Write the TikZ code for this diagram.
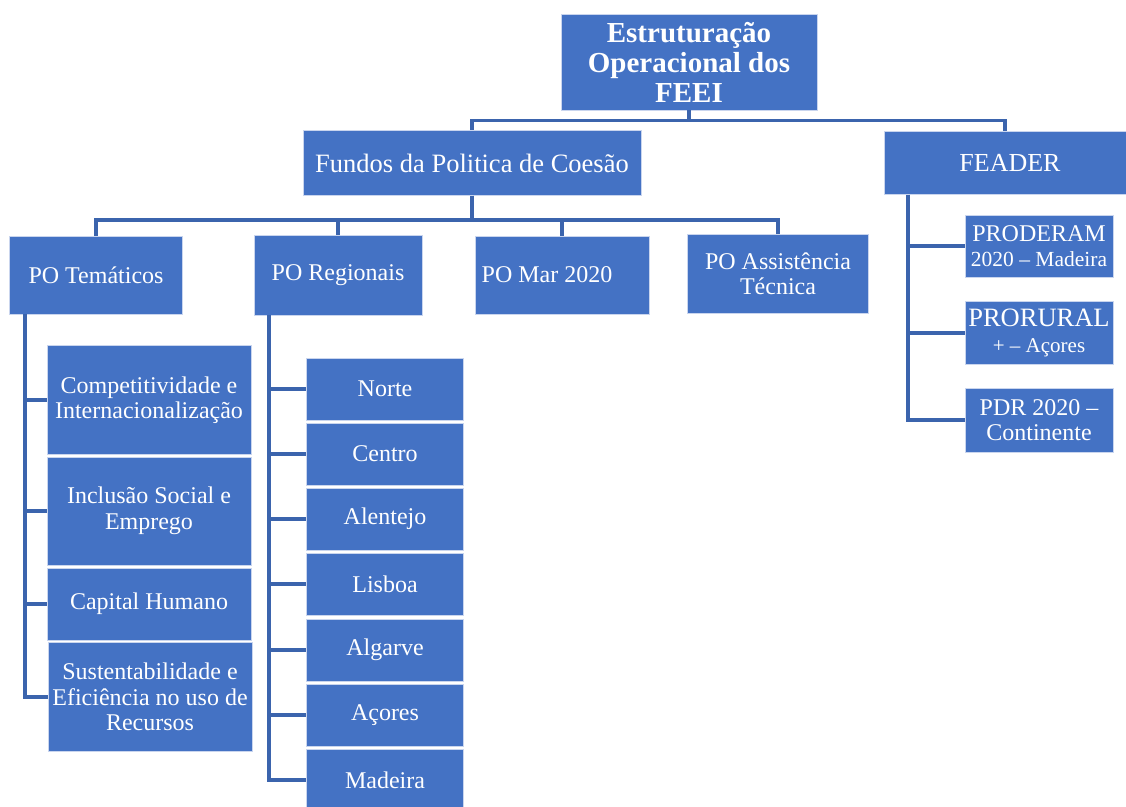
\documentclass[tikz,border=0pt]{standalone}
\usepackage{fontspec}
\setmainfont{Liberation Serif}
\usepackage{xcolor}
\usepackage{tikz}
\definecolor{boxblue}{HTML}{4472C4}
\definecolor{lineblue}{HTML}{3B64AD}
\definecolor{edgeblue}{HTML}{C9D5EE}
\tikzset{every picture/.style={x=1pt,y=-1pt},
  box/.style={rectangle, fill=boxblue, draw=edgeblue, line width=0.8pt, text=white,
    align=center, inner sep=1pt, font=\fontsize{24}{25.5}\selectfont},
  link/.style={draw=lineblue, line width=3.2pt}}

\begin{document}
\begin{tikzpicture}
        \useasboundingbox (0,0) rectangle (1126,806);

        \node[box, minimum width=256, minimum height=96, font=\bfseries\fontsize{29}{30}\selectfont] (root) at (689, 62) {Estruturação\\Operacional dos\\FEEI};
        \node[box, minimum width=338, minimum height=65, font=\fontsize{26.5}{28}\selectfont] (fundos) at (472, 163) {Fundos da Politica de Coesão};
        \node[box, minimum width=242, minimum height=63, font=\fontsize{26}{28}\selectfont] (feader) at (1005, 163) {\hspace*{10pt}FEADER};

        \node[box, minimum width=173, minimum height=78] (tem) at (96, 275) {PO Temáticos};
        \node[box, minimum width=168, minimum height=80] (reg) at (338, 275) {PO Regionais};
        \node[box, minimum width=174, minimum height=78] (mar) at (562, 275) {\hspace*{-30pt}PO Mar 2020};
        \node[box, minimum width=181, minimum height=79] (asst) at (778, 274) {PO Assistência\\Técnica};

        \node[box, minimum width=204, minimum height=109] (comp) at (149, 400) {Competitividade e\\Internacionalização};
        \node[box, minimum width=204, minimum height=108] (incl) at (149, 511) {Inclusão Social e\\Emprego};
        \node[box, minimum width=204, minimum height=72] (cap) at (149, 604) {Capital Humano};
        \node[box, minimum width=204, minimum height=109] (sust) at (150, 697) {Sustentabilidade e\\Eficiência no uso de\\Recursos};

        \node[box, minimum width=157, minimum height=62] (norte) at (385, 389) {Norte};
        \node[box, minimum width=157, minimum height=62] (centro) at (385, 454) {Centro};
        \node[box, minimum width=157, minimum height=62] (alentejo) at (385, 519) {Alentejo};
        \node[box, minimum width=157, minimum height=62] (lisboa) at (385, 584) {Lisboa};
        \node[box, minimum width=157, minimum height=62] (algarve) at (385, 650) {Algarve};
        \node[box, minimum width=157, minimum height=62] (acores) at (385, 715) {Açores};
        \node[box, minimum width=157, minimum height=62] (madeira) at (385, 780) {Madeira};

        \node[box, minimum width=148, minimum height=62, inner sep=0pt] (proderam) at (1039, 246) {PRODERAM\\{\fontsize{21.5}{23}\selectfont 2020 – Madeira}};
        \node[box, minimum width=148, minimum height=63, inner sep=0pt, font=\fontsize{26.5}{26}\selectfont] (proruralb) at (1039, 333) {PRORURAL\\{\fontsize{21}{23}\selectfont + – Açores}};
        \node[box, minimum width=148, minimum height=64] (pdr) at (1039, 420) {PDR 2020 –\\Continente};

        % top levels
        \foreach \to in {fundos, feader}
        \draw[link] (root.south) -- ++(0,10) -| (\to.north);
        \foreach \to in {tem, reg, mar, asst}
        \draw[link] (fundos.south) -- ++(0,24) -| (\to.north);

        % side trees
        \foreach \to in {comp, incl, cap, sust}
        \draw[link] ([xshift=-71]tem.south) |- (\to.west);
        \foreach \to in {norte, centro, alentejo, lisboa, algarve, acores, madeira}
        \draw[link] ([xshift=-69]reg.south) |- (\to.west);
        \foreach \to in {proderam, proruralb, pdr}
        \draw[link] ([xshift=-97]feader.south) |- (\to.west);
      \end{tikzpicture}
\end{document}
